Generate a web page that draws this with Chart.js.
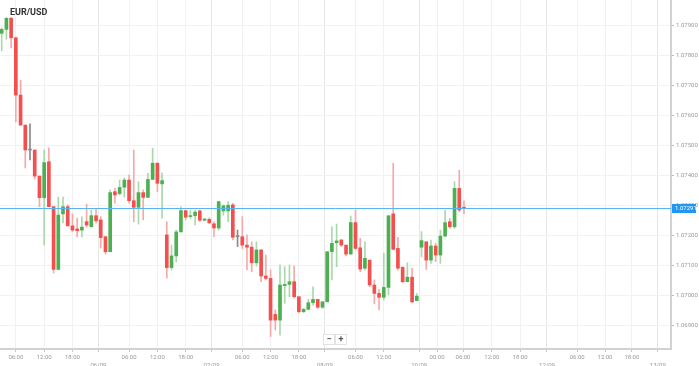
<!DOCTYPE html>
<html>
<head>
<meta charset="utf-8">
<script src="https://cdn.jsdelivr.net/npm/chart.js@4/dist/chart.umd.min.js"></script>
<style>
  body { margin: 0; background: #fff; }
  canvas { display: block; }
</style>
</head>
<body>
<canvas id="chart" width="699" height="366"></canvas>
<script>
// hourly EUR/USD candles
const opens = [
  1.07874, 1.07887, 1.07924, 1.07859, 1.07668, 1.07568, 1.07485, 1.07485, 1.07398, 1.07326,
  1.07446, 1.07296, 1.07087, 1.07272, 1.07296, 1.07232, 1.07222, 1.07218, 1.07246, 1.07229,
  1.07266, 1.07252, 1.07196, 1.07146, 1.07346, 1.07340, 1.07361, 1.07385, 1.07316, 1.07294,
  1.07343, 1.07327, 1.07387, 1.07441, 1.07372, 1.07202, 1.07093, 1.07132, 1.07212, 1.07283,
  1.07263, 1.07266, 1.07282, 1.07251, 1.07254, 1.07239, 1.07225, 1.07282, 1.07282, 1.07302,
  1.07196, 1.07196, 1.07168, 1.07161, 1.07109, 1.07152, 1.07065, 1.07057, 1.06937, 1.06918,
  1.07033, 1.07037, 1.07046, 1.06996, 1.06946, 1.06954, 1.06976, 1.06987, 1.06961, 1.06979,
  1.07146, 1.07176, 1.07185, 1.07168, 1.07138, 1.07243, 1.07159, 1.07091, 1.07118, 1.07035,
  1.07007, 1.06994, 1.07027, 1.07272, 1.07157, 1.07094, 1.07046, 1.07061, 1.06983, 1.07161,
  1.07179, 1.07118, 1.07165, 1.07135, 1.07198, 1.07246, 1.07229, 1.07357, 1.07294
];
const highs = [
  1.07892, 1.07927, 1.07927, 1.07862, 1.07718, 1.07568, 1.07572, 1.07485, 1.07398, 1.07485,
  1.07492, 1.07296, 1.07328, 1.07328, 1.07302, 1.07272, 1.07258, 1.07262, 1.07305, 1.07285,
  1.07288, 1.07263, 1.07196, 1.07352, 1.07358, 1.07385, 1.07392, 1.07402, 1.07485, 1.07379,
  1.07352, 1.07407, 1.07491, 1.07443, 1.07408, 1.07246, 1.07168, 1.07218, 1.07296, 1.07285,
  1.07283, 1.07285, 1.07285, 1.07257, 1.07259, 1.07246, 1.07313, 1.07302, 1.07313, 1.07307,
  1.07218, 1.07263, 1.07202, 1.07179, 1.07179, 1.07152, 1.07135, 1.07085, 1.06952, 1.07102,
  1.07096, 1.07102, 1.07098, 1.06996, 1.06957, 1.06987, 1.07029, 1.06987, 1.06979, 1.07146,
  1.07229, 1.07238, 1.07187, 1.07168, 1.07265, 1.07285, 1.07191, 1.07179, 1.07118, 1.07052,
  1.07021, 1.07141, 1.07266, 1.07441, 1.07194, 1.07096, 1.07109, 1.07091, 1.07007, 1.07213,
  1.07179, 1.07185, 1.07174, 1.07218, 1.07285, 1.07257, 1.07379, 1.07418, 1.07316
];
const lows = [
  1.07815, 1.07854, 1.07825, 1.07579, 1.07568, 1.07425, 1.07452, 1.07388, 1.07296, 1.07168,
  1.07296, 1.07075, 1.07085, 1.07242, 1.07232, 1.07212, 1.07196, 1.07195, 1.07228, 1.07229,
  1.07242, 1.07158, 1.07138, 1.07146, 1.07308, 1.07335, 1.07328, 1.07308, 1.07246, 1.07238,
  1.07252, 1.07327, 1.07387, 1.07346, 1.07258, 1.07058, 1.07085, 1.07112, 1.07212, 1.07252,
  1.07257, 1.07235, 1.07246, 1.07248, 1.07241, 1.07196, 1.07218, 1.07268, 1.07246, 1.07185,
  1.07163, 1.07157, 1.07085, 1.07079, 1.07098, 1.07046, 1.07052, 1.06863, 1.06885, 1.06868,
  1.06974, 1.06996, 1.06991, 1.06941, 1.06943, 1.06952, 1.06968, 1.06957, 1.06957, 1.06979,
  1.07052, 1.07096, 1.07163, 1.07132, 1.07138, 1.07152, 1.07079, 1.07085, 1.07029, 1.06972,
  1.06952, 1.06985, 1.07002, 1.07152, 1.07085, 1.07043, 1.07046, 1.06976, 1.06982, 1.07129,
  1.07087, 1.07107, 1.07113, 1.07107, 1.07196, 1.07224, 1.07224, 1.07279, 1.07272
];
const closes = [
  1.07887, 1.07924, 1.07859, 1.07668, 1.07568, 1.07485, 1.07485, 1.07398, 1.07326, 1.07443,
  1.07296, 1.07087, 1.07268, 1.07296, 1.07232, 1.07218, 1.07216, 1.07228, 1.07235, 1.07266,
  1.07249, 1.07193, 1.07146, 1.07343, 1.07335, 1.07360, 1.07385, 1.07316, 1.07294, 1.07343,
  1.07327, 1.07387, 1.07441, 1.07374, 1.07383, 1.07093, 1.07132, 1.07212, 1.07283, 1.07261,
  1.07266, 1.07278, 1.07251, 1.07255, 1.07242, 1.07225, 1.07313, 1.07299, 1.07301, 1.07194,
  1.07196, 1.07168, 1.07161, 1.07109, 1.07152, 1.07065, 1.07057, 1.06918, 1.06918, 1.07035,
  1.07037, 1.07046, 1.06996, 1.06946, 1.06954, 1.06976, 1.06987, 1.06961, 1.06979, 1.07146,
  1.07174, 1.07182, 1.07168, 1.07138, 1.07243, 1.07157, 1.07088, 1.07124, 1.07035, 1.07007,
  1.06994, 1.07027, 1.07266, 1.07154, 1.07091, 1.07046, 1.07061, 1.06979, 1.06998, 1.07183,
  1.07118, 1.07165, 1.07135, 1.07198, 1.07243, 1.07229, 1.07357, 1.07285, 1.07291
];
const lastPrice = 1.07291;

// x axis: positions in candle slots, labels as shown
const xTickPos = [3, 9, 15, 20.5, 27, 33, 39, 44.5, 51, 57, 63, 68.5, 75, 81, 88.5,
  92.3, 97.8, 103.9, 109.9, 115.6, 122, 127.9, 133.6, 139.1];
const xTickLabels = ["06:00", "12:00", "18:00", "06/09", "06:00", "12:00", "18:00", "07/09",
  "06:00", "12:00", "18:00", "08/09", "06:00", "12:00", "10/09", "00:00", "06:00", "12:00",
  "18:00", "12/09", "06:00", "12:00", "18:00", "13/09"];
const yTicks = [1.069, 1.07, 1.071, 1.072, 1.073, 1.074, 1.075, 1.076, 1.077, 1.078, 1.079];

const RED = "#f44f4f";
const GREEN = "#4caf50";
const isDate = (i) => xTickLabels[i].includes("/");

const bodyColor = opens.map((o, i) =>
  closes[i] > o ? GREEN : closes[i] < o ? RED : "#8a8a8a");
const wickColor = opens.map((o, i) =>
  closes[i] > o ? "#a9d9ab" : closes[i] < o ? "#f7a9a9" : "#8a8a8a");

// no extra padding from the axes, the plot runs to the canvas edges
const noPadding = (scale) => {
  scale.paddingTop = 0;
  scale.paddingBottom = 0;
  scale.paddingLeft = 0;
  scale.paddingRight = 0;
};

const overlay = {
  id: "overlay",
  afterDatasetsDraw(chart) {
    const { ctx, chartArea: a, scales } = chart;
    const py = Math.round(scales.y.getPixelForValue(lastPrice)) + 0.5;
    ctx.save();
    ctx.strokeStyle = "#5ab4f2";
    ctx.lineWidth = 1;
    ctx.beginPath();
    ctx.moveTo(a.left, py);
    ctx.lineTo(a.right, py);
    ctx.stroke();
    ctx.restore();
  },
  afterDraw(chart) {
    const { ctx, chartArea: a, scales } = chart;
    const py = Math.round(scales.y.getPixelForValue(lastPrice));
    ctx.save();
    // price tag on the axis
    ctx.fillStyle = "#2196f3";
    ctx.fillRect(a.right + 1, py - 4, 24, 9);
    ctx.fillStyle = "#fff";
    ctx.font = "6px Roboto";
    ctx.textBaseline = "middle";
    ctx.fillText(lastPrice.toFixed(5), a.right + 4, py + 0.5);

    // symbol name
    ctx.fillStyle = "#333";
    ctx.font = "bold 9px Roboto";
    ctx.textBaseline = "alphabetic";
    ctx.fillText("EUR/USD", 10, 15);

    // zoom buttons
    ctx.fillStyle = "#fff";
    ctx.strokeStyle = "#e2e2e2";
    ctx.fillRect(323, 334, 11, 10);
    ctx.strokeRect(323.5, 334.5, 11, 10);
    ctx.fillRect(335, 334, 11, 10);
    ctx.strokeRect(335.5, 334.5, 11, 10);
    ctx.fillStyle = "#555";
    ctx.font = "bold 9px Roboto";
    ctx.textAlign = "center";
    ctx.textBaseline = "middle";
    ctx.fillText("−", 329, 339.5);
    ctx.fillText("+", 341, 339.5);
    ctx.restore();
  },
};

const ctx = document.getElementById("chart").getContext("2d");

new Chart(ctx, {
  type: "bar",
  data: {
    datasets: [
      {
        // candle bodies
        data: opens.map((o, i) => ({ x: i, y: [o, closes[i]] })),
        backgroundColor: bodyColor,
        barThickness: 3,
        minBarLength: 1,
        grouped: false,
        order: 1,
      },
      {
        // wicks
        data: lows.map((l, i) => ({ x: i, y: [l, highs[i]] })),
        backgroundColor: wickColor,
        barThickness: 1,
        grouped: false,
        order: 2,
      },
    ],
  },
  options: {
    responsive: false,
    devicePixelRatio: 1,
    animation: false,
    events: [],
    layout: { padding: 0 },
    plugins: { legend: { display: false }, tooltip: { enabled: false } },
    scales: {
      x: {
        type: "linear",
        min: -0.36,
        max: 141.89,
        offset: false,
        grid: {
          offset: false,
          color: (c) => (c.index !== undefined && isDate(c.index) ? "#e6e6e6" : "#f1f1f1"),
          tickColor: "#c8c8c8",
          tickLength: 3,
        },
        border: { color: "#d2d2d2", width: 2 },
        afterBuildTicks: (scale) => {
          scale.ticks = xTickPos.map((v) => ({ value: v }));
        },
        afterFit: (scale) => {
          scale.height = 17;
          noPadding(scale);
        },
        ticks: {
          autoSkip: false,
          maxRotation: 0,
          padding: 1,
          color: "#999",
          font: { family: "Roboto", size: 6, lineHeight: 1.35 },
          callback: (v, i) => (isDate(i) ? ["", xTickLabels[i]] : xTickLabels[i]),
        },
      },
      y: {
        position: "right",
        min: 1.068217,
        max: 1.07985,
        beginAtZero: false,
        grid: { color: "#f2f2f2", tickColor: "#bdbdbd", tickLength: 3 },
        border: { color: "#d2d2d2", width: 2 },
        afterBuildTicks: (scale) => {
          scale.ticks = yTicks.map((v) => ({ value: v }));
        },
        afterFit: (scale) => {
          scale.width = 28;
          noPadding(scale);
        },
        ticks: {
          padding: 2,
          color: "#999",
          font: { family: "Roboto", size: 6 },
          callback: (v) => Number(v).toFixed(5),
        },
      },
    },
  },
  plugins: [overlay],
});
</script>
</body>
</html>
